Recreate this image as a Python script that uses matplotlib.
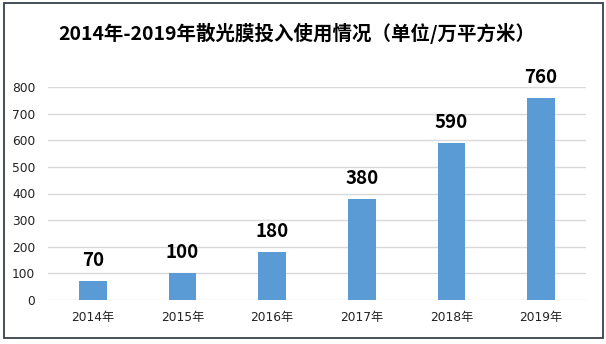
import matplotlib.pyplot as plt
from matplotlib.patches import Rectangle

plt.rcParams['font.family'] = ['DejaVu Sans', 'Noto Sans CJK SC']

years = ['2014年', '2015年', '2016年', '2017年', '2018年', '2019年']
values = [70, 100, 180, 380, 590, 760]
yticks = [0, 100, 200, 300, 400, 500, 600, 700, 800]

fig = plt.figure(figsize=(6.06, 3.44), dpi=100)
ax = fig.add_axes([0.079, 0.128, 0.888, 0.619])

x = range(len(years))
bars = ax.bar(x, values, width=0.31, color='#5B9BD5', zorder=3)

for xi, v in zip(x, values):
    ax.annotate(str(v), (xi, v), xytext=(0, 8), textcoords='offset points',
                ha='center', va='bottom', fontsize=13.5, fontweight='bold',
                family=['Noto Sans CJK SC', 'DejaVu Sans'], color='black',
                annotation_clip=False)

ax.set_xlim(-0.5, len(years) - 0.5)
ax.set_ylim(0, 800)
ax.set_yticks(yticks)
ax.set_xticks(list(x))
ax.set_xticklabels(years)
ax.tick_params(axis='both', length=0, labelsize=8.8, colors='#222222')
ax.tick_params(axis='y', pad=9)
ax.tick_params(axis='x', pad=8)
ax.yaxis.grid(True, color='#D9D9D9', linewidth=1, zorder=0)
for s in ax.spines.values():
    s.set_visible(False)

fig.text(0.49, 0.904, '2014年-2019年散光膜投入使用情况（单位/万平方米）',
         ha='center', va='center', fontsize=14, fontweight='bold',
         family=['Noto Sans CJK SC', 'DejaVu Sans'])

# outer frame
fig.patches.append(Rectangle((0.0066, 0.017), 0.9884, 0.974,
                             transform=fig.transFigure, fill=False,
                             edgecolor='#37414B', linewidth=1.3))

fig.savefig('out.png', dpi=100)
